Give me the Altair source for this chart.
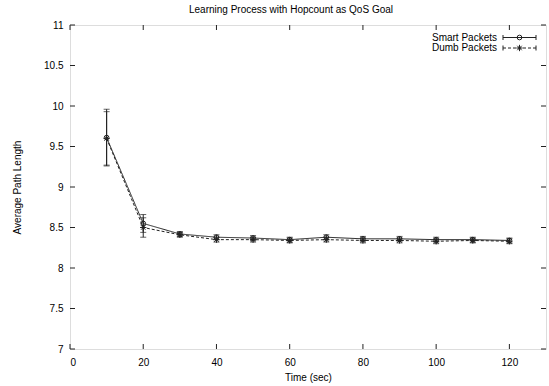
import altair as alt
import pandas as pd

# ---- data ----
time = [10, 20, 30, 40, 50, 60, 70, 80, 90, 100, 110, 120]
smart = [9.61, 8.55, 8.42, 8.38, 8.37, 8.35, 8.38, 8.36, 8.36, 8.35, 8.35, 8.34]
smart_err = [0.35, 0.11, 0.03, 0.03, 0.03, 0.03, 0.03, 0.03, 0.03, 0.03, 0.03, 0.03]
dumb = [9.60, 8.50, 8.41, 8.35, 8.35, 8.34, 8.35, 8.34, 8.34, 8.33, 8.34, 8.33]
dumb_err = [0.33, 0.12, 0.03, 0.03, 0.03, 0.03, 0.03, 0.03, 0.03, 0.03, 0.03, 0.03]
x_ticks = [0, 20, 40, 60, 80, 100, 120]
y_ticks = [7, 7.5, 8, 8.5, 9, 9.5, 10, 10.5, 11]
series = ["Smart Packets", "Dumb Packets"]

W, H = 476, 324
FONT = "Liberation Sans"
INK = "#222222"

def frame(vals, errs, name):
    return pd.DataFrame({
        "t": time, "v": vals,
        "lo": [a - b for a, b in zip(vals, errs)],
        "hi": [a + b for a, b in zip(vals, errs)],
        "s": name,
    })

sm = frame(smart, smart_err, series[0])
du = frame(dumb, dumb_err, series[1])

xs = alt.Scale(domain=[0, 130], nice=False, zero=False)
ys = alt.Scale(domain=[7, 11], nice=False, zero=False)

axis_style = dict(ticks=False, domain=False, grid=False, format="~f",
                  labelFont=FONT, labelFontSize=10, labelColor="#000",
                  titleFont=FONT, titleFontSize=10, titleFontWeight="normal", titleColor="#000")

X = alt.X("t:Q", scale=xs,
          axis=alt.Axis(values=x_ticks, title="Time (sec)", labelPadding=8, titlePadding=5, **axis_style))
Y = alt.Y("v:Q", scale=ys,
          axis=alt.Axis(values=y_ticks, title="Average Path Length", labelPadding=7, titlePadding=21,
                        **axis_style))

star = "M-1,0L1,0M0,-1L0,1M-0.7,-0.7L0.7,0.7M-0.7,0.7L0.7,-0.7"

def layers(df, dash, shape, size):
    base = alt.Chart(df)
    line = base.mark_line(color=INK, strokeWidth=1, strokeDash=dash).encode(x=X, y=Y)
    bar = base.mark_rule(color=INK, strokeWidth=1).encode(
        x=alt.X("t:Q", scale=xs), y=alt.Y("lo:Q", scale=ys), y2="hi:Q")
    cap_lo = base.mark_tick(color=INK, orient="horizontal", size=6, thickness=1).encode(
        x=alt.X("t:Q", scale=xs), y=alt.Y("lo:Q", scale=ys))
    cap_hi = base.mark_tick(color=INK, orient="horizontal", size=6, thickness=1).encode(
        x=alt.X("t:Q", scale=xs), y=alt.Y("hi:Q", scale=ys))
    pts = base.mark_point(shape=shape, size=size, filled=False, color=INK, strokeWidth=1,
                          opacity=1).encode(x=alt.X("t:Q", scale=xs), y=alt.Y("v:Q", scale=ys))
    return [line, bar, cap_lo, cap_hi, pts]

# inward, mirrored ticks
xt = pd.DataFrame({"t": x_ticks})
yt = pd.DataFrame({"v": y_ticks})
TL = 5
xb = alt.Chart(xt).mark_rule(color=INK).encode(x=alt.X("t:Q", scale=xs), y=alt.value(H), y2=alt.value(H - TL))
xtp = alt.Chart(xt).mark_rule(color=INK).encode(x=alt.X("t:Q", scale=xs), y=alt.value(0), y2=alt.value(TL))
yl = alt.Chart(yt).mark_rule(color=INK).encode(y=alt.Y("v:Q", scale=ys), x=alt.value(0), x2=alt.value(TL))
yr = alt.Chart(yt).mark_rule(color=INK).encode(y=alt.Y("v:Q", scale=ys), x=alt.value(W), x2=alt.value(W - TL))

# legend (drawn by hand, gnuplot style)
leg = pd.DataFrame({"s": series, "row": [0, 1]})
LX0, LX1, LY0, LDY = 433, 466, 12.5, 10.5
leg_layers = []
for i, (name, dash, shape, size) in enumerate([(series[0], [1, 0], "circle", 22), (series[1], [3, 2], star, 40)]):
    d = leg[leg.row == i]
    yy = LY0 + i * LDY
    c = alt.Chart(d)
    leg_layers += [
        c.mark_text(align="right", baseline="middle", font=FONT, fontSize=10, color="#000").encode(
            text="s:N", x=alt.value(LX0 - 6), y=alt.value(yy)),
        c.mark_rule(color=INK, strokeWidth=1, strokeDash=dash).encode(
            x=alt.value(LX0), x2=alt.value(LX1), y=alt.value(yy)),
        c.mark_rule(color=INK, strokeWidth=1).encode(
            x=alt.value(LX0), y=alt.value(yy - 2.5), y2=alt.value(yy + 2.5)),
        c.mark_rule(color=INK, strokeWidth=1).encode(
            x=alt.value(LX1), y=alt.value(yy - 2.5), y2=alt.value(yy + 2.5)),
        c.mark_point(shape=shape, size=size, filled=False, color=INK, strokeWidth=1, opacity=1).encode(
            x=alt.value((LX0 + LX1) / 2), y=alt.value(yy)),
    ]

chart = alt.layer(
    *layers(du, [3, 2], star, 40),
    *layers(sm, [1, 0], "circle", 22),
    xb, xtp, yl, yr,
    *leg_layers,
).properties(
    width=W, height=H,
    title=alt.TitleParams("Learning Process with Hopcount as QoS Goal", font=FONT, fontSize=10,
                          fontWeight="normal", color="#000", anchor="middle", dx=-17, offset=5),
    autosize=alt.AutoSizeParams(type="none"),
    padding={"left": 70, "top": 25, "right": 3, "bottom": 37},
).configure_view(
    stroke=INK, strokeWidth=1.2
).configure(background="white")

chart.save("out.html", embed_options={"renderer": "svg", "actions": False})
